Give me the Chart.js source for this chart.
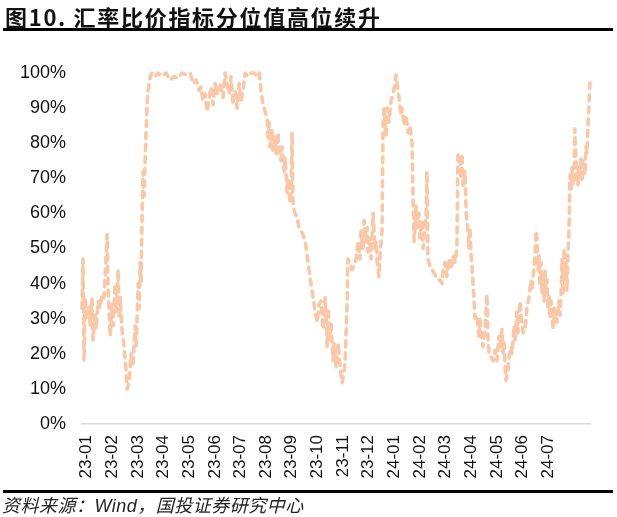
<!DOCTYPE html>
<html>
<head>
<meta charset="utf-8">
<script src="https://cdn.jsdelivr.net/npm/chart.js@4.4.1/dist/chart.umd.min.js"></script>
<style>
  html, body { margin: 0; padding: 0; background: #fff; }
  #wrap { position: relative; width: 617px; height: 517px; overflow: hidden; background: #fff; }
  #c { position: absolute; left: 0; top: 0; }
  #title { position: absolute; left: 5px; top: 3px; font-family: "Noto Sans CJK SC", "Liberation Sans", sans-serif; font-weight: bold; font-size: 22px; letter-spacing: 1.7px; color: #111; line-height: 26px; white-space: nowrap; }
  #tline { position: absolute; left: 3px; top: 28px; width: 610px; height: 3px; background: #000; }
  #bline { position: absolute; left: 3px; top: 490px; width: 610px; height: 3px; background: #000; }
  #source { position: absolute; left: 2px; top: 493px; font-family: "Noto Sans CJK SC", "Liberation Sans", sans-serif; font-style: italic; font-size: 18px; letter-spacing: 0.5px; color: #222; line-height: 22px; white-space: nowrap; }
</style>
</head>
<body>
<div id="wrap">
  <canvas id="c" width="617" height="517"></canvas>
  <div id="title">图10. 汇率比价指标分位值高位续升</div>
  <div id="tline"></div>
  <div id="bline"></div>
  <div id="source">资料来源：<span style="font-family:'Liberation Sans',sans-serif">Wind</span>，国投证券研究中心</div>
</div>
<script>
// Month tick labels (tick i sits at month position i)
const monthLabels = ["23-01","23-02","23-03","23-04","23-05","23-06","23-07","23-08","23-09","23-10","23-11","23-12","24-01","24-02","24-03","24-04","24-05","24-06","24-07"];

// Position of each reading along the time axis, in months since 23-01
const monthPos = [
-0.18,-0.14,-0.10,-0.06,0.02,0.10,0.14,0.21,0.25,0.33,0.37,0.45,0.53,0.60,0.68,0.76,0.80,0.84,0.92,0.99,
1.03,1.11,1.15,1.23,1.27,1.31,1.38,1.46,1.54,1.58,1.66,1.73,1.81,1.89,1.93,2.01,2.05,2.09,2.12,2.16,
2.20,2.24,2.28,2.36,2.40,2.48,2.55,2.67,2.79,2.94,3.10,3.26,3.41,3.57,3.72,3.88,4.04,4.15,4.27,4.39,
4.46,4.54,4.62,4.70,4.78,4.85,4.93,5.01,5.09,5.20,5.32,5.40,5.48,5.56,5.63,5.71,5.79,5.87,5.95,6.02,
6.10,6.18,6.30,6.41,6.53,6.65,6.73,6.80,6.88,6.96,7.04,7.08,7.11,7.15,7.23,7.27,7.35,7.39,7.47,7.50,
7.58,7.62,7.70,7.74,7.82,7.86,7.93,7.97,8.01,8.05,8.13,8.21,8.28,8.36,8.44,8.52,8.60,8.67,8.75,8.83,
8.91,8.99,9.06,9.14,9.22,9.30,9.34,9.38,9.42,9.49,9.53,9.61,9.65,9.73,9.77,9.81,9.88,9.92,9.96,10.04,
10.08,10.16,10.19,10.27,10.35,10.43,10.51,10.58,10.66,10.70,10.78,10.82,10.90,10.94,10.97,11.05,11.09,11.17,11.21,11.25,
11.29,11.33,11.40,11.44,11.52,11.56,11.60,11.68,11.72,11.79,11.87,11.95,12.03,12.07,12.11,12.18,12.26,12.30,12.38,12.46,
12.53,12.61,12.69,12.73,12.77,12.85,12.89,12.96,13.00,13.08,13.12,13.16,13.24,13.27,13.31,13.39,13.47,13.55,13.63,13.70,
13.78,13.86,13.90,13.98,14.05,14.13,14.21,14.29,14.37,14.44,14.48,14.52,14.56,14.60,14.64,14.68,14.76,14.80,14.87,14.91,
14.95,14.99,15.03,15.11,15.15,15.22,15.26,15.30,15.34,15.38,15.42,15.46,15.54,15.61,15.65,15.69,15.77,15.85,15.93,16.00,
16.08,16.12,16.20,16.24,16.28,16.32,16.35,16.43,16.47,16.55,16.59,16.67,16.71,16.78,16.82,16.90,16.94,17.02,17.10,17.17,
17.25,17.33,17.37,17.45,17.49,17.52,17.56,17.60,17.64,17.68,17.72,17.76,17.80,17.84,17.88,17.91,17.95,17.99,18.03,18.07,
18.11,18.19,18.23,18.27,18.30,18.34,18.42,18.46,18.50,18.54,18.58,18.62,18.65,18.69,18.73,18.77,18.81,18.85,18.89,18.93,
18.97,19.01,19.04,19.08,19.12,19.16,19.20,19.24,19.28,19.32,19.36,19.40,19.44,19.47,19.51,19.55,19.59,19.63
];

// Percentile value (%) at each reading
const percentile = [
33,47,18,36,30,34,28,36,24,31,27,35,33,37,36,48,54,38,25,34,
28,40,32,44,30,36,27,22,15,10,12,20,17,28,22,40,33,46,40,58,
72,65,75,92,95,99,100,99,100,99,100,98,99,98.5,100,99.5,100,97,98,95,
96,92,94,89,93,96,91,97,94,97,93,100,97,94,99,91,95,90,97,92,
95,100,99,100,100,99,100,95,91,89,87,81,86,79,84,78,82,77,83,78,
75,79,72,76,66,70,63,65,83,62,60,59,56,55,54,52,48,44,40,36,
32,29,34,35,27,36,30,22,33,24,29,18,23,16,20,23,17,14,11.7,15,
18,35,47,46,44,45,47,52,47,55,50,58,52,56,49,53,47,60,55,50,
52,46,42,48,55,85,90,82,90,86,92,94,97,99.4,97,93,88,90,85,88,
83,85,80,64,52,62,56,60,53,58,50,54,60,72,47,45,44,43,42,41,
41,40,44,46,42,47,44,48,46,50,77,76,75,70,77,68,72,60,55,50,
56,48,45,35,30,31,28,25,30,26,24,22,28,37,25,20,19,18,21,18,
25,22,27,20,24,16,12.5,15,19,22,20,28,24,32,26,35,31,26,27,33,
36,41,38,45,48,55,53,44,48,40,46,37,43,35,44,38,41,33,37,30,
35,27,33,29,32,29,35,31,36,47,37,50,42,46,38,48,55,71,67,73,
68,70,84,75,70,68,74,70,76,69,75,73,71,79,77,85,91,98
];

// Y-axis tick values (%)
const yTicks = [0,10,20,30,40,50,60,70,80,90,100];

const points = monthPos.map((m, i) => ({ x: m, y: percentile[i] }));

new Chart(document.getElementById('c'), {
  type: 'line',
  data: {
    datasets: [{
      data: points,
      borderColor: '#F8C8A8',
      borderWidth: 3.6,
      borderDash: [6, 6],
      borderCapStyle: 'round',
      borderJoinStyle: 'round',
      pointRadius: 0,
      tension: 0,
      fill: false,
      clip: 8
    }]
  },
  options: {
    responsive: false,
    animation: false,
    devicePixelRatio: 1,
    layout: { padding: { left: 0, right: 27, top: 73, bottom: 0 } },
    plugins: { legend: { display: false }, tooltip: { enabled: false }, title: { display: false } },
    scales: {
      x: {
        type: 'linear',
        min: -0.18,
        max: 19.63,
        afterBuildTicks: (scale) => { scale.ticks = monthLabels.map((_, i) => ({ value: i })); },
        afterFit: (scale) => { scale.height = 93; },
        grid: { display: false, drawTicks: false },
        border: { display: true, color: '#D9D9D9', width: 1.5 },
        ticks: {
          autoSkip: false,
          maxRotation: 90,
          minRotation: 90,
          padding: 11,
          color: '#111',
          font: { family: 'Liberation Sans, Arial, sans-serif', size: 17 },
          callback: (v) => monthLabels[v] !== undefined ? monthLabels[v] : ''
        }
      },
      y: {
        min: 0,
        max: 100,
        afterBuildTicks: (scale) => { scale.ticks = yTicks.map(v => ({ value: v })); },
        afterFit: (scale) => { scale.width = 82; },
        grid: { display: false, drawTicks: false },
        border: { display: false },
        ticks: {
          padding: 16,
          color: '#111',
          font: { family: 'Liberation Sans, Arial, sans-serif', size: 18 },
          callback: (v) => v + '%'
        }
      }
    }
  }
});
</script>
</body>
</html>
